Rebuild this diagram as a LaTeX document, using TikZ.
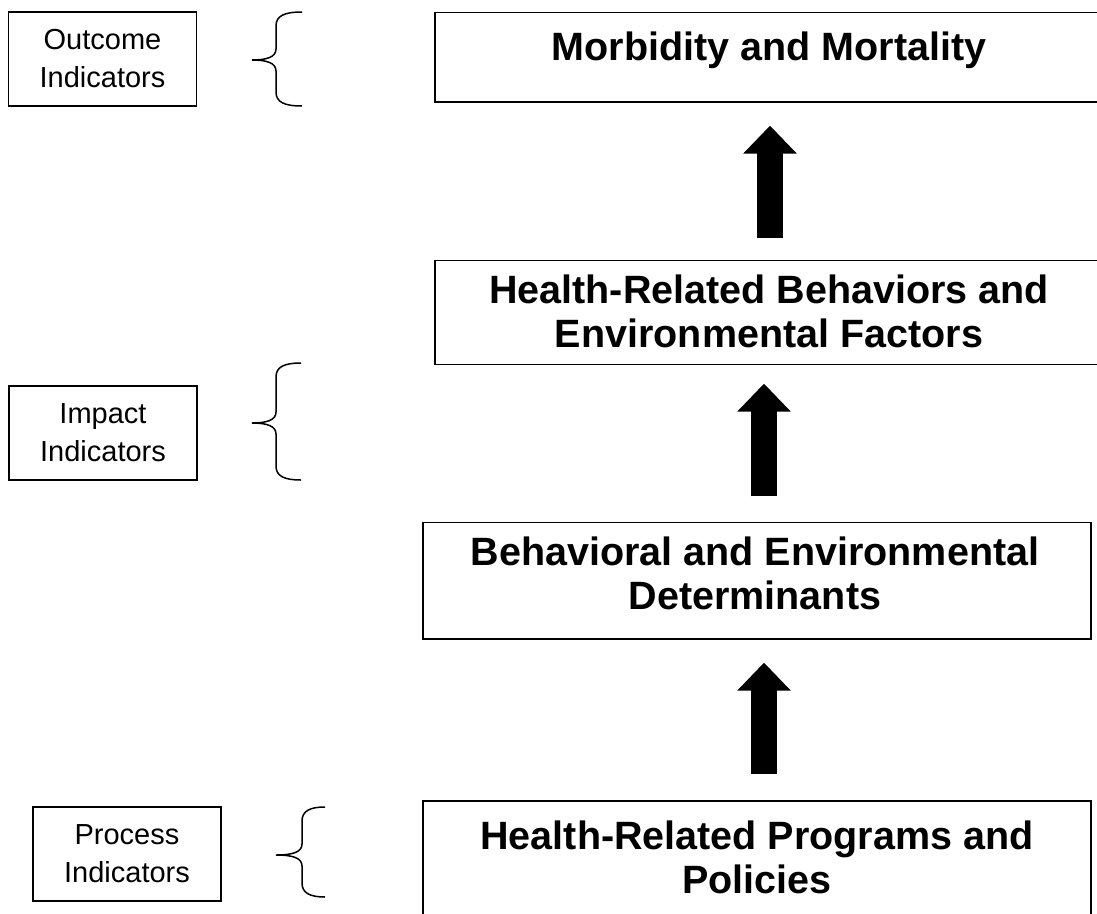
\documentclass[tikz,border=0pt]{standalone}
\usepackage{fontspec}
\setmainfont{Liberation Sans}
\usetikzlibrary{arrows.meta}
\newcommand{\indbrace}[6]{% #1 tip x, #2 stem x, #3 end x, #4 top y, #5 tip y, #6 bottom y
  \draw[bracestyle] (#3,#4) .. controls (#2+8,#4) and (#2,#4+4) .. (#2,#4+14)
    -- (#2,#5-11) .. controls (#2,#5-3) and (#2-9,#5) .. (#1,#5)
    .. controls (#2-9,#5) and (#2,#5+3) .. (#2,#5+11)
    -- (#2,#6-14) .. controls (#2,#6-4) and (#2+8,#6) .. (#3,#6);}
\begin{document}
\begin{tikzpicture}[x=1pt,y=-1pt,
  indbox/.style={draw, line width=1.3pt, inner sep=0pt, minimum width=188pt, minimum height=94pt,
    align=center, font=\fontsize{29}{38}\selectfont},
  mainbox/.style={draw, line width=1.3pt, inner sep=0pt, minimum width=668pt},
  maintxt/.style={inner sep=0pt, align=center, font=\bfseries\fontsize{39.5}{44}\selectfont},
  bigarrow/.style={line width=26pt, -{Triangle[width=52pt,length=28pt]}},
  bracestyle/.style={line width=1.5pt}]
\useasboundingbox (0,0) rectangle (1097,913);

% indicator boxes
\node[indbox] (outcome) at (102.5,59) {Outcome\\Indicators};
\node[indbox] (impact) at (103,433) {Impact\\Indicators};
\node[indbox] (process) at (127,854) {Process\\Indicators};

% braces
\indbrace{252}{276}{302}{12}{60}{106}
\indbrace{252}{276}{301}{363}{423}{480}
\indbrace{276}{302}{325}{807}{855}{897}

% main boxes
\node[mainbox, minimum height=89.5pt] (morb) at (769,57.25) {};
\node[maintxt] (morbt) at (769,50) {Morbidity and Mortality};
\node[mainbox, minimum height=104pt] (hrb) at (769,312.5) {};
\node[maintxt] (hrbt) at (769,311) {Health-Related Behaviors and\\Environmental Factors};
\node[mainbox, minimum height=116.5pt] (beh) at (757,580.75) {};
\node[maintxt] (beht) at (755,573) {Behavioral and Environmental\\Determinants};
\node[mainbox, minimum height=139pt] (prog) at (757,870.5) {};
\node[maintxt] (progt) at (757,857) {Health-Related Programs and\\Policies};

% arrows
\coordinate (ax1) at (770,0);
\coordinate (ax2) at (764,0);
\draw[bigarrow, shorten <=22pt, shorten >=23pt] (hrb.north -| ax1) -- (morb.south -| ax1);
\draw[bigarrow, shorten <=25.5pt, shorten >=18.5pt] (beh.north -| ax2) -- (hrb.south -| ax2);
\draw[bigarrow, shorten <=26pt, shorten >=23pt] (prog.north -| ax2) -- (beh.south -| ax2);
\end{tikzpicture}
\end{document}
